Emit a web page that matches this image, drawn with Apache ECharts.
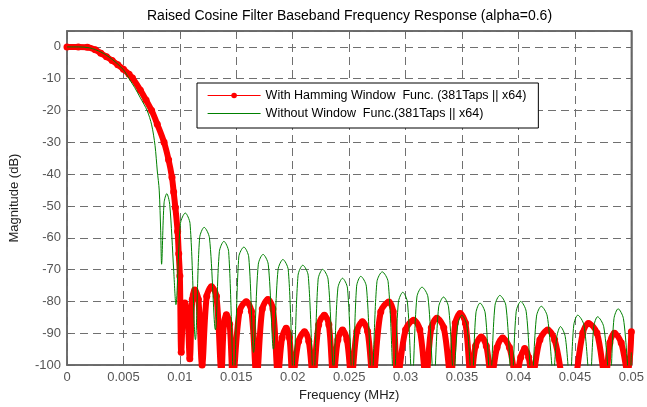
<!DOCTYPE html>
<html>
<head>
<meta charset="utf-8">
<script src="https://cdn.jsdelivr.net/npm/echarts@6/dist/echarts.min.js"></script>
<style>html,body{margin:0;padding:0;background:#fff}#c{width:647px;height:407px}</style>
</head>
<body>
<div id="c"></div>
<script>
var FONT = 'Arial, "Liberation Sans", Helvetica, sans-serif';
var titleText = 'Raised Cosine Filter Baseband Frequency Response (alpha=0.6)';
var xName = 'Frequency (MHz)';
var yName = 'Magnitude (dB)';
var redName = 'With Hamming Window  Func. (381Taps || x64)';
var greenName = 'Without Window  Func.(381Taps || x64)';

var xTicks = [0, 0.005, 0.01, 0.015, 0.02, 0.025, 0.03, 0.035, 0.04, 0.045, 0.05];
var yTicks = [-100, -90, -80, -70, -60, -50, -40, -30, -20, -10, 0];

var redFreq = [0,0.001,0.0018,0.0025,0.003,0.0035,0.004,0.0045,0.005,0.0055,0.0058,0.0065,0.007,0.0075,0.008,0.0086,0.009,0.0093,0.00945,0.0096,0.0098,0.0099,0.01,0.01012,
 0.01028,0.01044,0.01066,0.01088,
 0.0111,0.01132,0.01164,0.01197,
 0.01238,0.0128,0.01324,0.01368,
 0.0139,0.01412,0.01441,0.0147,
 0.01529,0.01588,0.01634,0.0168,
 0.0173,0.0178,0.01825,0.0187,
 0.01906,0.01942,0.01971,0.02,
 0.02052,0.02104,0.02142,0.0218,
 0.0223,0.0228,0.0232,0.0236,
 0.024,0.02441,0.0248,0.0252,
 0.02568,0.02617,0.02663,0.0271,
 0.0278,0.02852,0.0289,0.0293,
 0.03,0.03072,0.03126,0.0318,
 0.03228,0.03277,0.03338,0.034,
 0.0344,0.03483,0.0353,0.0358,
 0.0362,0.0367,0.03715,0.0376,
 0.0381,0.0386,0.0392,0.0398,
 0.0402,0.04055,0.0409,0.0412,
 0.0419,0.0426,0.0432,0.04385,0.0445,0.0451,
 0.0457,0.0462,0.04695,0.0477,
 0.0481,0.0485,0.0491,0.0497,
 0.05];
var redMag = [0,0,-0.1,-0.9,-2.0,-3.1,-4.3,-5.6,-7.0,-8.6,-9.8,-13.6,-16.7,-20,-24.3,-30,-35.5,-41,-45.6,-50.5,-58,-65,-72,-96,
 -83.5,-80.5,-83.5,-98,
 -79.4,-76.4,-79.4,-100,
 -78.4,-75.4,-78.4,-102,
 -87.2,-84.2,-87.2,-104,
 -83.1,-80.1,-83.1,-104,
 -82.4,-79.4,-82.4,-103,
 -91.4,-88.4,-91.4,-104,
 -92.5,-89.5,-92.5,-104,
 -87.3,-84.3,-87.3,-104,
 -92,-89,-92,-104,
 -89.4,-86.4,-89.4,-104,
 -83.2,-80.2,-83.2,-104,
 -88.9,-85.9,-88.9,-104,
 -88.3,-85.3,-88.3,-104,
 -86.8,-83.8,-86.8,-104,
 -94,-91.2,-94,-104,
 -94.5,-91.5,-94.5,-104,
 -97.5,-94.8,-97.5,-104,
 -92,-89,-92,-104,-118,-104,
 -89.9,-86.9,-89.9,-104,
 -93,-90,-93,-103,
 -89.5];

var greenFreq = [0,0.001,0.002,0.003,0.004,0.005,0.0055,0.006,0.0065,0.0071,0.0075,0.0078,0.008,0.00817,0.0083,0.00838,
 0.0086,0.00884,0.0091,0.00945,0.00965,
 0.01005,0.01048,0.0109,0.01138,
 0.01175,0.01215,0.01262,0.01315,
 0.0135,0.0139,0.01432,0.01479,
 0.01522,0.01567,0.0161,0.01653,
 0.01695,0.01737,0.01783,0.01829,
 0.0187,0.01913,0.0196,0.02006,
 0.02047,0.02089,0.02137,0.02185,
 0.02225,0.02265,0.02313,0.02361,
 0.024,0.02441,0.02485,0.02529,
 0.02566,0.02603,0.02652,0.027,
 0.02746,0.02793,0.02845,0.02897,
 0.02936,0.02975,0.03016,0.03058,
 0.031,0.03145,0.03198,0.0325,
 0.03293,0.03336,0.0338,0.03426,
 0.03462,0.03497,0.03542,0.03588,
 0.03623,0.03659,0.03705,0.0375,
 0.03792,0.03835,0.03888,0.03941,
 0.0398,0.0402,0.04068,0.04117,
 0.0416,0.04202,0.04255,0.04309,
 0.0434,0.04372,0.04414,0.04456,
 0.0449,0.04525,0.0458,0.04633,
 0.04667,0.04701,0.04755,0.0481,
 0.04846,0.04883,0.0493,0.04986,
 0.05];
var greenMag = [0,0,-0.3,-1.6,-3.9,-7.2,-10,-12.8,-16,-20,-24.5,-31,-39,-45,-57.8,-68.3,
 -49,-46.1,-49.5,-70,-81,
 -55.5,-52.2,-55.5,-92,
 -60,-56.7,-60,-88.9,
 -64.3,-61.1,-64.3,-106,
 -66,-62.9,-66,-96,
 -68.3,-65.2,-68.3,-95,
 -70,-66.8,-70,-104,
 -71.8,-68.6,-71.8,-106,
 -73,-69.9,-73,-101,
 -75.8,-72.7,-75.8,-106,
 -75.2,-72.1,-75.2,-106,
 -73.8,-70.7,-73.8,-106,
 -80.2,-77.1,-80.2,-106,
 -78.6,-75.5,-78.6,-106,
 -81.7,-78.6,-81.7,-103,
 -87.4,-84.3,-87.4,-106,
 -83.6,-80.5,-83.6,-106,
 -81.2,-78.1,-81.2,-106,
 -83.1,-80,-83.1,-106,
 -84.6,-81.5,-84.6,-103,
 -91,-87.9,-91,-106,
 -87.4,-84.3,-87.4,-106,
 -87.9,-84.8,-87.9,-106,
 -85.4,-82.3,-85.4,-106,
 -96];

function pairs(xs, ys) { return xs.map(function (x, i) { return [x, ys[i]]; }); }

var chart = echarts.init(document.getElementById('c'), null, { renderer: 'canvas' });
var gridLine = { show: true, lineStyle: { color: '#707070', width: 1, type: [8, 5] } };
var axisCol = '#666';
chart.setOption({
  animation: false,
  backgroundColor: '#fff',
  graphic: [{
    type: 'text', left: 147, top: 9,
    style: { text: titleText, fontSize: 14, fontFamily: FONT, fill: '#000' }
  }],
  grid: { left: 67, right: 14, top: 31, bottom: 38, show: true, borderColor: axisCol, borderWidth: 1.5, backgroundColor: '#fff' },
  legend: {
    left: 197, top: 83, orient: 'vertical',
    itemWidth: 53, itemHeight: 7, itemGap: 5,
    padding: [6, 12, 8, 10],
    borderColor: '#000', borderWidth: 1, backgroundColor: '#fff',
    textStyle: { fontSize: 12.5, color: '#000', fontFamily: FONT },
    data: [
      { name: redName, lineStyle: { width: 1.2 } },
      { name: greenName, icon: 'path://M0,0H53V1.1H0Z' }
    ]
  },
  xAxis: [{
    type: 'value', min: 0, max: 0.05, interval: 0.005,
    name: xName, nameLocation: 'middle', nameGap: 22,
    nameTextStyle: { fontSize: 13, color: '#222', fontFamily: FONT },
    axisLine: { show: true, onZero: false, lineStyle: { color: axisCol, width: 1.5 } },
    axisTick: { show: true, inside: true, length: 4, lineStyle: { color: axisCol } },
    axisLabel: { fontSize: 13, color: '#555', fontFamily: FONT, margin: 6,
      formatter: function (v) { var s = xTicks.filter(function (t) { return Math.abs(t - v) < 1e-9; }); return s.length ? String(s[0]) : ''; } },
    splitLine: gridLine
  }, {
    type: 'value', min: 0, max: 0.05, interval: 0.005, position: 'top',
    axisLine: { show: true, onZero: false, lineStyle: { color: axisCol, width: 1.5 } },
    axisTick: { show: true, inside: true, length: 4, lineStyle: { color: axisCol } },
    axisLabel: { show: false }, splitLine: { show: false }
  }],
  yAxis: [{
    type: 'value', min: -100, max: 5, interval: 10,
    name: yName, nameLocation: 'middle', nameGap: 46,
    nameTextStyle: { fontSize: 13, color: '#222', fontFamily: FONT },
    axisLine: { show: true, onZero: false, lineStyle: { color: axisCol, width: 1.5 } },
    axisTick: { show: true, inside: true, length: 4, lineStyle: { color: axisCol } },
    axisLabel: { fontSize: 13, color: '#555', fontFamily: FONT, margin: 6, showMaxLabel: false,
      formatter: function (v) { return yTicks.indexOf(v) >= 0 ? String(v) : ''; } },
    splitLine: gridLine
  }, {
    type: 'value', min: -100, max: 5, interval: 10, position: 'right',
    axisLine: { show: true, onZero: false, lineStyle: { color: axisCol, width: 1.5 } },
    axisTick: { show: true, inside: true, length: 4, lineStyle: { color: axisCol } },
    axisLabel: { show: false }, splitLine: { show: false }
  }],
  series: [{
    name: redName, type: 'line', xAxisIndex: 0, yAxisIndex: 0,
    data: pairs(redFreq, redMag), smooth: 0.35,
    symbol: 'circle', symbolSize: 7, showSymbol: true,
    lineStyle: { color: '#ff0000', width: 6 },
    itemStyle: { color: '#ff0000' },
    clip: true, z: 2
  }, {
    name: greenName, type: 'line', xAxisIndex: 0, yAxisIndex: 0,
    data: pairs(greenFreq, greenMag), smooth: 0.3,
    symbol: 'none',
    lineStyle: { color: '#008000', width: 1 },
    itemStyle: { color: '#008000' },
    clip: true, z: 3
  }]
});
</script>
</body>
</html>
